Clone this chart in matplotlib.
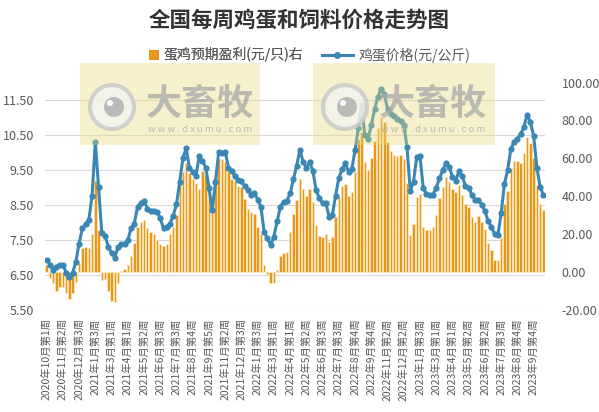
import matplotlib
matplotlib.use("Agg")
import matplotlib.pyplot as plt
from matplotlib.patches import Rectangle, Ellipse
from matplotlib.lines import Line2D
from matplotlib.transforms import blended_transform_factory
from matplotlib.ticker import FormatStrFormatter

plt.rcParams['font.family'] = ['Noto Sans CJK SC', 'DejaVu Sans']

# 鸡蛋价格 (元/公斤), weekly, left axis
egg_price = [
    6.93, 6.80, 6.64, 6.74, 6.80, 6.79, 6.57, 6.45, 6.55, 6.88,
    7.40, 7.83, 7.95, 8.07, 8.76, 10.31, 9.02, 7.69, 7.62, 7.31,
    7.12, 7.00, 7.30, 7.40, 7.40, 7.50, 7.83, 7.97, 8.45, 8.55,
    8.62, 8.40, 8.33, 8.33, 8.30, 8.12, 7.83, 7.88, 7.97, 8.20,
    8.52, 9.17, 9.85, 10.12, 9.55, 9.45, 9.33, 9.90, 9.77, 9.57,
    9.00, 8.35, 9.15, 10.02, 10.00, 10.02, 9.57, 9.47, 9.32, 9.22,
    9.18, 9.03, 8.93, 8.80, 8.85, 8.65, 8.45, 7.72, 7.55, 7.35,
    7.60, 8.04, 8.45, 8.60, 8.62, 8.83, 9.23, 9.62, 10.07, 9.74,
    9.55, 9.74, 9.47, 8.93, 8.69, 8.55, 8.55, 8.17, 8.21, 8.77,
    9.27, 9.52, 9.69, 9.45, 9.52, 10.07, 10.69, 11.36, 10.49, 10.40,
    10.78, 11.23, 11.59, 11.81, 11.68, 11.25, 11.11, 11.04, 10.97, 10.89,
    10.80, 10.16, 8.90, 9.17, 9.88, 9.90, 8.98, 8.81, 8.78, 8.80,
    9.00, 9.26, 9.50, 9.69, 9.58, 9.31, 9.20, 9.46, 9.32, 9.05,
    9.00, 8.78, 8.65, 8.65, 8.50, 8.33, 8.03, 7.88, 7.66, 7.64,
    8.26, 9.10, 9.50, 10.11, 10.31, 10.40, 10.52, 10.74, 11.08, 10.87,
    10.48, 9.56, 9.02, 8.79,
]

# 蛋鸡预期盈利 (元/只), right axis
hen_profit = [
    4, -3, -6, -10, -8, -8, -11, -14, -11, -5,
    5, 12.5, 13.3, 12.5, 20, 48, 22, -4, -3.5, -10,
    -15.5, -15.8, -6, 0.5, 1.5, 3.5, 8.6, 15.5, 24, 26.5,
    27.5, 23.5, 21, 20, 17, 15, 13.5, 15, 20, 24,
    30, 46, 53, 57.5, 52.5, 49, 47, 44, 53.5, 51,
    47, 31.6, 47, 59.6, 59.6, 58, 53.5, 49, 48, 45.6,
    44.7, 38.6, 33.3, 31.6, 30.7, 23.7, 20, 4, -1, -6,
    -6, 1, 8.4, 10, 10.5, 21, 30.7, 38, 49, 44,
    40, 44, 37, 25, 19, 18.4, 20, 15.8, 18.4, 29,
    39.5, 45.6, 46.5, 40, 42, 52.6, 70, 73.7, 58, 54,
    60, 69, 75.8, 81.6, 79, 68.8, 64, 62, 61.4, 62,
    59.6, 47, 19.5, 25.6, 39.6, 41, 23.7, 22, 22, 24,
    30, 39, 44.7, 50, 47.5, 44, 42, 45.7, 40.5, 36,
    34.4, 29, 26.6, 29.5, 26.6, 22.8, 15.2, 11.5, 6.2, 6.2,
    18, 36, 43, 55, 58.4, 58.8, 57.4, 63, 71, 68,
    60, 45.7, 36, 33,
]

# every 5th week is labelled
week_labels = [
    "2020年10月第1周", "2020年11月第2周", "2020年12月第3周", "2021年1月第3周",
    "2021年3月第1周", "2021年4月第1周", "2021年5月第2周", "2021年6月第3周",
    "2021年7月第3周", "2021年8月第4周", "2021年9月第5周", "2021年11月第2周",
    "2021年12月第3周", "2022年1月第3周", "2022年3月第1周", "2022年4月第1周",
    "2022年5月第2周", "2022年6月第3周", "2022年7月第3周", "2022年8月第4周",
    "2022年9月第4周", "2022年11月第2周", "2022年12月第2周", "2023年1月第3周",
    "2023年3月第1周", "2023年4月第1周", "2023年5月第2周", "2023年6月第2周",
    "2023年7月第3周", "2023年8月第4周", "2023年9月第4周",
]
label_step = 5

W, H = 599, 412
BLUE = "#3A87B4"
ORANGE = "#E9961C"
GREY = "#595959"


def fx(x):
    return x / W


def fy(y):
    return 1 - y / H


fig = plt.figure(figsize=(W / 100, H / 100), dpi=100)
ax = fig.add_axes([fx(45), fy(310), 500 / W, (310 - 82.5) / H])
ax2 = ax.twinx()
ax.set_zorder(ax2.get_zorder() + 1)
ax.patch.set_visible(False)

x = list(range(len(egg_price)))

ax2.bar(x, hen_profit, width=0.75, color=ORANGE, edgecolor="#FCEBC0",
        linewidth=0.5, zorder=2)
ax.plot(x, egg_price, color=BLUE, lw=2.2, marker="o", ms=4.5,
        markeredgewidth=0, zorder=3)

ax.set_xlim(-0.5, len(x) - 0.5)
ax.set_ylim(5.5, 12.0)
ax2.set_ylim(-20, 100)

left_ticks = [5.5, 6.5, 7.5, 8.5, 9.5, 10.5, 11.5]
ax.set_yticks(left_ticks)
ax2.set_yticks([-20, 0, 20, 40, 60, 80, 100])
ax.yaxis.set_major_formatter(FormatStrFormatter("%.2f"))
ax2.yaxis.set_major_formatter(FormatStrFormatter("%.2f"))

# gridlines behind the bars
tr = blended_transform_factory(ax2.transAxes, ax.transData)
for v in left_ticks:
    ax2.plot([0, 1], [v, v], transform=tr, color="#D9D9D9", lw=0.8, zorder=0)

ax.set_xticks(x[::label_step])
ax.set_xticklabels(week_labels, rotation=90, fontsize=7.5, color=GREY)

for a in (ax, ax2):
    for s in a.spines.values():
        s.set_visible(False)
    a.tick_params(length=0)
ax.tick_params(axis="y", labelsize=9, labelcolor=GREY, pad=8)
ax.tick_params(axis="x", pad=6)
ax2.tick_params(axis="y", labelsize=9, labelcolor=GREY, pad=12)

fig.text(0.5, fy(20), "全国每周鸡蛋和饲料价格走势图", ha="center", va="center",
         fontsize=15.5, fontweight="bold", color="#333333")

# two legends so the square and the line can have different handle lengths
bar_handle = Line2D([0], [0], color=ORANGE, ls="none", marker="s", ms=7,
                    markeredgewidth=0)
line_handle = Line2D([0], [0], color=BLUE, lw=2.2, marker="o", ms=5,
                     markeredgewidth=0)
leg1 = fig.legend([bar_handle], ["蛋鸡预期盈利(元/只)右"], loc="center",
                  bbox_to_anchor=(fx(226), fy(55)), frameon=False, fontsize=10,
                  labelcolor=GREY, handlelength=0.8, handletextpad=0.3)
fig.add_artist(leg1)
fig.legend([line_handle], ["鸡蛋价格(元/公斤)"], loc="center",
           bbox_to_anchor=(fx(396), fy(55)), frameon=False, fontsize=10,
           labelcolor=GREY, handlelength=2.2, handletextpad=0.4)

# watermark boxes (dxumu)
for bx0, bx1 in [(80, 260), (313, 495)]:
    fig.add_artist(Rectangle((fx(bx0), fy(145)), fx(bx1 - bx0), (145 - 63) / H,
                             transform=fig.transFigure, facecolor="#E8DC7A",
                             edgecolor="none", alpha=0.38, zorder=10))
    cx, cy = bx0 + 32, 107
    fig.add_artist(Ellipse((fx(cx), fy(cy)), 44 / W, 44 / H,
                           transform=fig.transFigure, facecolor="#F4F4F0",
                           edgecolor="#C8C8C8", lw=3, alpha=0.8, zorder=11))
    fig.add_artist(Ellipse((fx(cx + 2), fy(cy)), 20 / W, 20 / H,
                           transform=fig.transFigure, facecolor="#B4B4B4",
                           edgecolor="none", alpha=0.9, zorder=12))
    fig.add_artist(Ellipse((fx(cx - 2), fy(cy - 4)), 6 / W, 6 / H,
                           transform=fig.transFigure, facecolor="white",
                           edgecolor="none", zorder=13))
    fig.text(fx(cx + 34), fy(104), "大畜牧", ha="left", va="center",
             fontsize=26, fontweight="bold", color="#A8A8A8", alpha=0.75,
             zorder=12)
    fig.text(fx(cx + 36), fy(129), "w w w . d x u m u . c o m", ha="left",
             va="center", fontsize=6.8, color="#A8A8A8", alpha=0.8, zorder=12)

fig.savefig("out.png", dpi=100)
